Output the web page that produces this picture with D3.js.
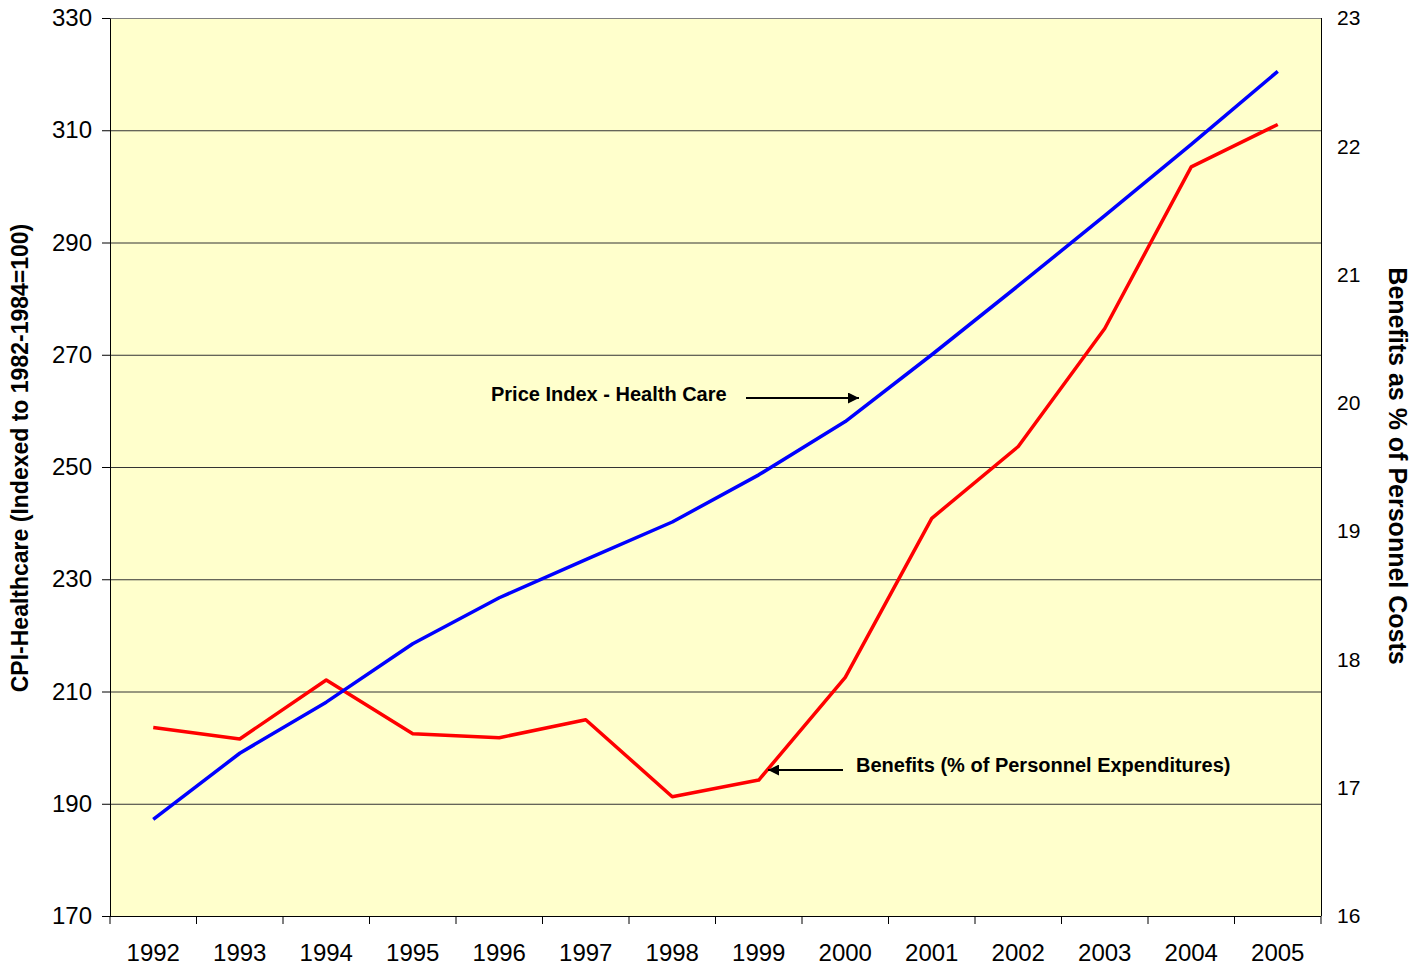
<!DOCTYPE html>
<html>
<head>
<meta charset="utf-8">
<script src="https://cdn.jsdelivr.net/npm/d3@7"></script>
<style>
  body { margin: 0; background: #fff; }
  svg text { font-family: "Liberation Sans", Arial, sans-serif; fill: #000; }
  .domain { stroke: #000; }
</style>
</head>
<body>
<div id="graph"></div>
<script>
(function(){
  "use strict";

  // data
  var years = ["1992","1993","1994","1995","1996","1997","1998","1999","2000","2001","2002","2003","2004","2005"];
  var cpiHealth = [187.2, 199.0, 208.1, 218.5, 226.7, 233.5, 240.2, 248.6, 258.1, 270.0, 282.3, 294.8, 307.5, 320.5];
  var benefitsPct = [17.47, 17.38, 17.84, 17.42, 17.39, 17.53, 16.93, 17.06, 17.86, 19.10, 19.66, 20.58, 21.84, 22.17];
  var leftTicks = [170, 190, 210, 230, 250, 270, 290, 310, 330];
  var rightTicks = [16, 17, 18, 19, 20, 21, 22, 23];

  var width = 1426, height = 966;
  var left = 110, right = 1321, top = 18, bottom = 916;

  var svg = d3.select("#graph").append("svg")
      .attr("width", width)
      .attr("height", height);

  var x = d3.scaleBand().domain(years).range([left, right]);
  var yL = d3.scaleLinear().domain([170, 330]).range([bottom, top]);
  var yR = d3.scaleLinear().domain([16, 23]).range([bottom, top]);

  // plot background
  svg.append("rect")
      .attr("x", left).attr("y", top)
      .attr("width", right - left).attr("height", bottom - top)
      .attr("fill", "#FFFFCC");

  // gridlines
  svg.append("g").selectAll("line")
      .data(leftTicks.slice(1))
      .enter().append("line")
      .attr("x1", left).attr("x2", right)
      .attr("y1", function(d){ return yL(d) + 0.5; })
      .attr("y2", function(d){ return yL(d) + 0.5; })
      .attr("stroke", function(d){ return d === 330 ? "#808080" : "#333"; })
      .attr("stroke-width", 1);

  // right border
  svg.append("line")
      .attr("x1", right + 0.5).attr("x2", right + 0.5)
      .attr("y1", top).attr("y2", bottom)
      .attr("stroke", "#000");

  // left axis
  var la = svg.append("g")
      .attr("transform", "translate(" + left + ",0)")
      .call(d3.axisLeft(yL).tickValues(leftTicks).tickSize(8).tickPadding(10).tickSizeOuter(0));
  la.selectAll(".tick text").style("font-size", "24px");

  // right axis labels (no tick marks)
  var ra = svg.append("g")
      .attr("transform", "translate(" + right + ",0)")
      .call(d3.axisRight(yR).tickValues(rightTicks).tickFormat(d3.format("d"))
        .tickSize(0).tickPadding(16).tickSizeOuter(0));
  ra.select(".domain").remove();
  ra.selectAll(".tick text").style("font-size", "21px");

  // bottom axis: labels centred in the bands, ticks on the band edges
  var xa = svg.append("g")
      .attr("transform", "translate(0," + bottom + ")")
      .call(d3.axisBottom(x).tickSize(0).tickPadding(28).tickSizeOuter(0));
  xa.select(".domain").attr("d", "M" + left + ",0.5H" + right);
  xa.selectAll(".tick text").style("font-size", "24px");

  var edges = years.map(function(d){ return x(d); }).concat([right]);
  xa.selectAll("line.edge")
      .data(edges)
      .enter().append("line")
      .attr("class", "edge")
      .attr("x1", function(d){ return d; })
      .attr("x2", function(d){ return d; })
      .attr("y1", 0).attr("y2", 8)
      .attr("stroke", "#000");

  var cx = function(d, i){ return x(years[i]) + x.bandwidth() / 2; };

  // lines
  var blueLine = d3.line().x(cx).y(function(d){ return yL(d); });
  var redLine = d3.line().x(cx).y(function(d){ return yR(d); });

  svg.append("path")
      .attr("d", redLine(benefitsPct))
      .attr("fill", "none")
      .attr("stroke", "#FF0000")
      .attr("stroke-width", 3.5)
      .attr("stroke-linejoin", "round");

  svg.append("path")
      .attr("d", blueLine(cpiHealth))
      .attr("fill", "none")
      .attr("stroke", "#0000FF")
      .attr("stroke-width", 3.5)
      .attr("stroke-linejoin", "round");

  // arrow marker
  svg.append("defs").append("marker")
      .attr("id", "arrow")
      .attr("viewBox", "0 0 10 10")
      .attr("refX", 10).attr("refY", 5)
      .attr("markerWidth", 7).attr("markerHeight", 5.5)
      .attr("markerUnits", "strokeWidth")
      .attr("orient", "auto")
      .append("path")
      .attr("d", "M0,0L10,5L0,10z")
      .attr("fill", "#000");

  // annotations
  svg.append("text")
      .attr("x", 491).attr("y", 394)
      .attr("dy", "0.35em")
      .style("font-size", "20px").style("font-weight", "bold")
      .text("Price Index - Health Care");
  svg.append("line")
      .attr("x1", 746).attr("x2", 859)
      .attr("y1", 398).attr("y2", 398)
      .attr("stroke", "#000").attr("stroke-width", 2)
      .attr("marker-end", "url(#arrow)");

  svg.append("text")
      .attr("x", 856).attr("y", 765)
      .attr("dy", "0.35em")
      .style("font-size", "20px").style("font-weight", "bold")
      .text("Benefits (% of Personnel Expenditures)");
  svg.append("line")
      .attr("x1", 843).attr("x2", 768)
      .attr("y1", 770).attr("y2", 770)
      .attr("stroke", "#000").attr("stroke-width", 2)
      .attr("marker-end", "url(#arrow)");

  // axis titles
  svg.append("text")
      .attr("text-anchor", "middle")
      .attr("transform", "translate(28," + 458 + ")rotate(-90)")
      .style("font-size", "23px").style("font-weight", "bold")
      .text("CPI-Healthcare (Indexed to 1982-1984=100)");

  svg.append("text")
      .attr("text-anchor", "middle")
      .attr("transform", "translate(1389," + 466 + ")rotate(90)")
      .style("font-size", "25px").style("font-weight", "bold")
      .text("Benefits as % of Personnel Costs");
})();
</script>
</body>
</html>
